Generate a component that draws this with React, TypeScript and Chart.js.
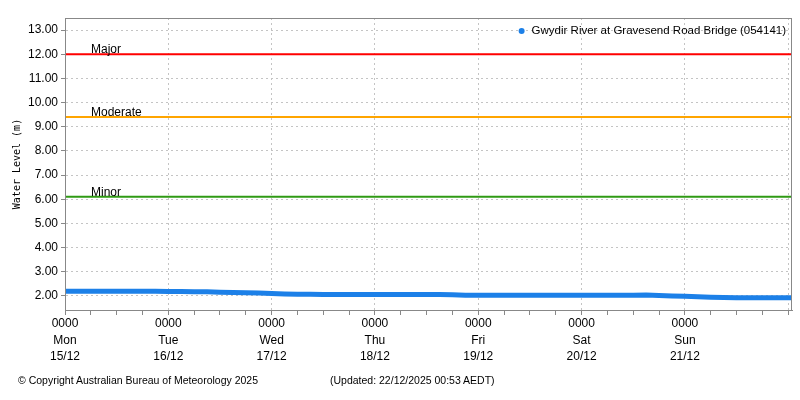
import { useEffect, useRef } from "react";
import { Chart, registerables } from "chart.js";

Chart.register(...registerables);

// hours since Mon 15/12 0000
const hours = [
  0, 3, 6, 9, 12, 15, 18, 21,
  24, 27, 30, 33, 36, 39, 42, 45,
  48, 51, 54, 57, 60, 63, 66, 69,
  72, 75, 78, 81, 84, 87, 90, 93,
  96, 99, 102, 105, 108, 111, 114, 117,
  120, 123, 126, 129, 132, 135, 138, 141,
  144, 147, 150, 153, 156, 159, 162, 165,
  168, 168.88,
];

const levels = [
  2.2, 2.2, 2.2, 2.2, 2.2, 2.2, 2.2, 2.2,
  2.19, 2.19, 2.18, 2.17, 2.15, 2.14, 2.13, 2.12,
  2.1, 2.08, 2.07, 2.07, 2.06, 2.06, 2.06, 2.06,
  2.06, 2.06, 2.06, 2.06, 2.06, 2.06, 2.05, 2.03,
  2.03, 2.03, 2.03, 2.03, 2.03, 2.03, 2.03, 2.03,
  2.03, 2.03, 2.03, 2.03, 2.03, 2.04, 2.02, 2.0,
  1.99, 1.97, 1.95, 1.94, 1.93, 1.93, 1.93, 1.93,
  1.93, 1.93,
];

const stationName = "Gwydir River at Gravesend Road Bridge (054141)";

const thresholdNames = ["Major", "Moderate", "Minor"];
const thresholdLevels = [12.0, 9.4, 6.1];
const thresholdColors = ["#ff0000", "#ffa500", "#2f9a14"];

const dayNames = ["Mon", "Tue", "Wed", "Thu", "Fri", "Sat", "Sun"];
const dayDates = ["15/12", "16/12", "17/12", "18/12", "19/12", "20/12", "21/12"];

const X_MAX = 168.88;
const Y_MIN = 1.42;
const Y_MAX = 13.5;
const SERIES_COLOR = "#1c80e8";
const FONT = "'Liberation Sans', Arial, sans-serif";

const overlayPlugin = {
  id: "overlay",
  afterDatasetsDraw(chart: any) {
    const { ctx, chartArea, scales } = chart;
    ctx.save();
    // threshold labels
    ctx.font = `12px ${FONT}`;
    ctx.fillStyle = "#000";
    ctx.textAlign = "left";
    ctx.textBaseline = "alphabetic";
    thresholdNames.forEach((name, i) => {
      const y = scales.y.getPixelForValue(thresholdLevels[i]);
      ctx.fillText(name, chartArea.left + 26, y - 1);
    });
    // legend inside plot
    const label = chart.data.datasets[0].label;
    ctx.font = `11.5px ${FONT}`;
    ctx.textAlign = "right";
    ctx.textBaseline = "middle";
    const lx = chartArea.right - 6;
    const ly = chartArea.top + 13;
    ctx.fillText(label, lx, ly);
    const w = ctx.measureText(label).width;
    ctx.fillStyle = SERIES_COLOR;
    ctx.beginPath();
    ctx.arc(lx - w - 10, ly, 3, 0, Math.PI * 2);
    ctx.fill();
    // frame
    ctx.strokeStyle = "#888";
    ctx.lineWidth = 1;
    ctx.strokeRect(
      chartArea.left + 0.5,
      chartArea.top + 0.5,
      chartArea.right - chartArea.left - 1,
      chartArea.bottom - chartArea.top
    );
    ctx.restore();
  },
};

export default function App() {
  const canvasRef = useRef<HTMLCanvasElement | null>(null);

  useEffect(() => {
    if (!canvasRef.current) return;
    const ctx = canvasRef.current.getContext("2d");
    if (!ctx) return;

    const chart = new Chart(ctx, {
      type: "line",
      data: {
        datasets: [
          {
            label: stationName,
            data: hours.map((h, i) => ({ x: h, y: levels[i] })),
            borderColor: SERIES_COLOR,
            backgroundColor: SERIES_COLOR,
            borderWidth: 5,
            pointRadius: 0,
            tension: 0,
          },
          ...thresholdNames.map((name, i) => ({
            label: name,
            data: [
              { x: 0, y: thresholdLevels[i] },
              { x: X_MAX, y: thresholdLevels[i] },
            ],
            borderColor: thresholdColors[i],
            borderWidth: 2,
            pointRadius: 0,
          })),
        ],
      },
      options: {
        responsive: false,
        animation: false,
        devicePixelRatio: 1,
        layout: { padding: { top: 18, right: 8, left: 0, bottom: 0 } },
        plugins: {
          legend: { display: false },
          tooltip: { enabled: false },
        },
        scales: {
          x: {
            type: "linear",
            min: 0,
            max: X_MAX,
            afterFit: (scale: any) => {
              scale.height = 90;
            },
            border: { display: true, color: "#888", dash: [2, 3] },
            grid: {
              color: (c: any) =>
                c.tick && c.tick.value % 24 === 0 ? "#c4c4c4" : "rgba(0,0,0,0)",
              tickColor: "#888",
              tickLength: 5,
              tickBorderDash: [],
            },
            ticks: {
              stepSize: 6,
              includeBounds: false,
              autoSkip: false,
              maxRotation: 0,
              padding: 0,
              color: "#000",
              font: { family: FONT, size: 12, lineHeight: 1.4 },
              callback: (v: any) => {
                const d = Math.round(Number(v) / 24);
                if (Number(v) % 24 !== 0 || d >= dayNames.length) return "";
                return ["0000", dayNames[d], dayDates[d]];
              },
            },
          },
          y: {
            min: Y_MIN,
            max: Y_MAX,
            afterFit: (scale: any) => {
              scale.width = 65;
            },
            border: { display: true, color: "#888", dash: [2, 3] },
            grid: {
              color: "#c4c4c4",
              tickColor: "#888",
              tickLength: 4,
              tickBorderDash: [],
            },
            ticks: {
              stepSize: 1,
              includeBounds: false,
              padding: 3,
              color: "#000",
              font: { family: FONT, size: 12 },
              callback: (v: any) => Number(v).toFixed(2),
            },
            title: {
              display: true,
              text: "Water Level (m)",
              color: "#000",
              font: { family: "'DejaVu Sans Mono', monospace", size: 10 },
              padding: { top: 11, bottom: 0 },
            },
          },
        },
      },
      plugins: [overlayPlugin],
    });

    return () => chart.destroy();
  }, []);

  return (
    <div
      style={{
        position: "absolute",
        left: 0,
        top: 0,
        width: 800,
        height: 400,
        background: "#fff",
        fontFamily: FONT,
      }}
    >
      <canvas ref={canvasRef} width={800} height={400} />
      <div
        style={{
          position: "absolute",
          left: 18,
          top: 374,
          fontSize: 10.5,
          color: "#000",
          whiteSpace: "nowrap",
        }}
      >
        © Copyright Australian Bureau of Meteorology 2025
      </div>
      <div
        style={{
          position: "absolute",
          left: 330,
          top: 374,
          fontSize: 10.5,
          color: "#000",
          whiteSpace: "nowrap",
        }}
      >
        (Updated: 22/12/2025 00:53 AEDT)
      </div>
    </div>
  );
}
